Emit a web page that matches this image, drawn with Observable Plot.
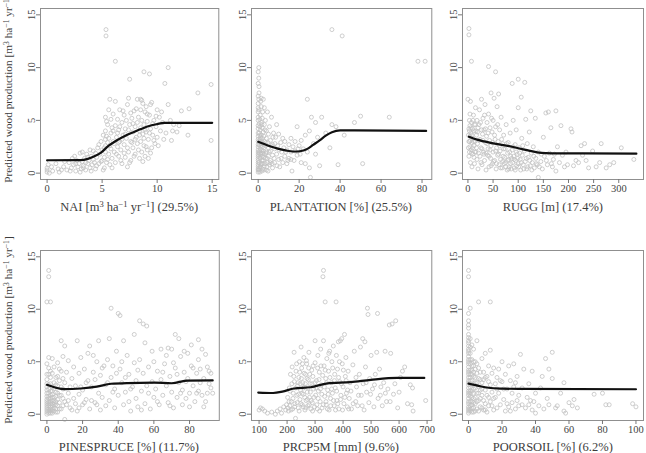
<!DOCTYPE html>
<html>
<head>
<meta charset="utf-8">
<script src="https://cdn.jsdelivr.net/npm/d3@7"></script>
<script src="https://cdn.jsdelivr.net/npm/@observablehq/plot@0.6"></script>
<style>
  body { margin: 0; background: #fff; }
  #fig { position: relative; width: 646px; height: 453px; overflow: hidden;
         font-family: "Liberation Serif", "Times New Roman", serif; color: #3c3c3c; }
  #fig svg { position: absolute; overflow: visible; }
  .xt { position: absolute; transform: translate(-50%, -50%); white-space: nowrap; font-size: 12.5px; }
  .yt { position: absolute; transform: translate(-50%, -50%) rotate(-90deg); white-space: nowrap; font-size: 11.3px; }
  sup { font-size: 68%; line-height: 0; vertical-align: 0.45em; }
</style>
</head>
<body>
<div id="fig"></div>
<script>
// Observed plots: [predictor value, predicted wood production]
const naiPts = [
  [0,0.1],[0,0.3],[0,0.5],[0.1,0.8],[0.5,0.2],[1.0,0.4],[1.1,0.1],
  [1.5,0.6],[1.8,0.3],[2.0,1.0],[2.2,0.5],[2.4,0.8],[2.5,1.6],[2.6,0.2],[2.7,1.2],[2.8,0.6],[2.9,0.9],
  [3.0,1.9],[3.1,0.4],[3.2,1.1],[3.3,0.7],[3.4,1.4],[3.5,0.3],[3.6,1.8],[3.7,0.9],[3.8,1.2],[3.9,0.5],
  [4.0,1.6],[4.1,0.8],[4.2,2.1],[4.3,1.0],[4.4,0.4],[4.5,1.5],[4.6,2.4],[4.7,0.9],[4.8,1.8],[4.9,3.0],[5.0,1.2],[5.0,2.2],
  [5.2,0.5],[5.2,1.5],[5.3,2.0],[5.3,2.6],[5.3,3.2],[5.3,4.0],[5.3,5.3],[5.35,13.6],[5.35,13.0],[5.4,1.0],[5.4,3.5],
  [5.5,4.6],[5.5,2.9],[5.6,1.8],[5.6,6.0],[5.7,0.8],[5.7,7.0],[5.8,3.8],[5.8,2.3],[5.9,4.3],[5.9,1.4],[6.0,3.0],[6.0,5.6],
  [6.1,2.0],[6.2,10.6],[6.2,4.5],[6.2,1.0],[6.3,3.4],[6.4,5.1],[6.4,2.5],[6.5,4.1],[6.5,1.6],[6.6,6.0],[6.6,3.0],[6.7,2.2],
  [6.8,4.8],[6.8,0.9],[6.9,3.6],[7.0,5.5],[7.0,2.7],[7.1,1.5],[7.1,4.2],
  [7.2,3.3],[7.3,6.5],[7.3,0.6],[7.4,7.1],[7.4,2.0],[7.5,8.9],[7.5,4.6],[7.6,3.0],[7.6,1.2],[7.7,5.2],[7.8,3.9],[7.8,2.4],
  [7.9,5.9],[8.0,1.8],[8.0,4.4],
  [8.1,3.4],[8.2,7.0],[8.2,2.8],[8.3,5.3],[8.4,1.4],[8.4,4.0],[8.5,7.0],[8.5,6.0],[8.5,3.0],[8.6,2.0],[8.6,5.0],[8.7,3.7],
  [8.7,6.6],[8.8,9.6],[8.8,4.6],[8.8,2.6],[8.9,5.8],[8.9,1.6],[9.0,3.9],[9.0,6.3],
  [9.1,2.2],[9.1,4.9],[9.2,3.2],[9.3,9.4],[9.3,5.5],[9.4,4.2],[9.4,1.9],[9.5,6.7],[9.6,3.6],[9.7,5.0],[9.8,2.8],[9.9,4.4],
  [10.0,3.4],[10.0,6.0],
  [10.2,5.3],[10.3,4.0],[10.5,4.8],[10.7,8.5],[10.8,3.8],[11.0,10.0],[11.0,6.5],[11.2,5.0],[11.3,3.1],[11.5,4.6],[11.8,3.9],
  [12.2,5.9],[12.8,3.6],[12.9,6.1],[13.7,7.6],[14.9,8.4],[14.9,3.1],
  [0.2,0.0],[0.4,0.6],[0.8,0.9],[1.3,0.3],[1.6,1.1],[2.1,0.2],[2.3,1.4],[2.6,0.9],[3.0,0.1],[3.2,2.0],[3.3,0.5],[3.5,1.0],
  [3.7,1.5],[3.9,2.2],[4.0,0.2],[4.2,1.3],[4.4,1.9],[4.5,0.7],[4.7,2.7],[4.9,1.1],[5.1,3.6],[5.1,0.3],[5.2,2.4],[5.4,4.9],
  [5.5,1.3],[5.6,3.3],[5.7,2.6],[5.8,5.1],[5.9,0.5],[6.0,4.0],[6.1,2.8],[6.2,6.8],[6.3,1.8],[6.4,3.8],[6.5,2.9],[6.6,4.4],
  [6.7,1.2],[6.8,3.2],[6.9,5.9],[7.0,1.9],[7.1,3.7],[7.2,5.0],[7.3,2.4],[7.4,4.1],[7.5,1.0],[7.6,5.7],[7.7,2.9],[7.8,4.7],
  [7.9,1.6],[8.0,3.2],[8.1,6.1],[8.2,4.8],[8.3,2.2],[8.4,3.6],[8.5,4.3],[8.6,6.9],[8.7,1.1],[8.8,3.3],[8.9,4.1],[9.0,2.5],
  [9.1,5.6],[9.2,1.4],[9.3,3.8],[9.4,6.5],[9.5,2.4],[9.6,4.7],[9.7,3.1],[9.9,5.4],[10.1,2.6],[10.4,5.8],[10.6,3.2],[11.4,4.0],
  [12.0,4.5]
];
const plantationPts = [
  [0,0.1],[0,0.4],[0,0.8],[0,1.2],[0,1.6],[0,2.0],[0,2.5],[0,3.0],[0,3.5],[0,4.2],[0,5.0],[0,5.8],[0,6.6],[0,7.3],[0,8.5],
  [0,9.6],[0.3,10.0],[0.3,9.0],[0.3,7.0],[0.3,6.0],[0.5,4.7],[0.5,3.8],[0.5,2.7],[0.5,1.9],[0.5,1.0],[0.5,0.3],
  [1,5.5],[1,4.1],[1,3.2],[1,2.3],[1,1.4],[1,0.6],[1.5,7.1],[1.5,6.3],[1.5,4.8],[1.5,3.6],[1.5,2.8],[1.5,1.9],[1.5,0.9],
  [2,5.2],[2,4.3],[2,3.3],[2,2.5],[2,1.6],[2,0.4],[2.5,7.0],[2.5,3.9],[2.5,2.1],[2.5,1.2],[3,6.2],[3,4.6],[3,3.0],[3,1.8],[3,0.7],
  [3.5,5.0],[3.5,2.6],[3.5,1.4],[4,4.0],[4,3.3],[4,2.0],[4,0.3],[4.5,5.8],[4.5,1.0],[5,3.7],[5,2.4],[5,1.6],[5.5,4.4],[5.5,0.8],
  [6,3.1],[6,2.1],[6,1.2],[6.5,5.3],[7,2.7],[7,1.7],[7,0.5],[7.5,3.8],[8,2.3],[8,1.0],
  [8.5,3.4],[9,1.8],[9,4.6],[9.5,2.6],[10,3.7],[10,1.3],[10.5,0.6],[11,2.9],[11.5,2.0],[12,3.3],[12,1.0],[12.5,2.4],[13,3.0],
  [13,1.6],[14,2.2],[14,0.9],[15,2.7],[15,1.4],[16,2.0],[16,3.3],[16.5,0.2],
  [17,2.5],[17.5,1.2],[18,2.1],[18,3.0],[19,4.4],[19,1.7],[20,2.6],[21,1.0],[21,3.1],[22,2.3],[23,0.9],[23,3.6],[24,7.0],
  [24,2.0],[25,4.0],[25,0.5],[25.5,-0.4],
  [26,5.3],[27,2.8],[28,4.8],[28,1.8],[29,3.4],[30,0.7],[31,5.3],[33,3.8],[35,2.4],[36,13.6],[36,4.6],[38,4.4],[39,0.8],
  [41,13.0],[42,3.6],[47,4.8],[50,5.4],[51,0.9],[64,5.3],[78,10.6],[81.5,10.6],
  [0,0.3],[0,0.6],[0,1.0],[0,1.4],[0,1.8],[0,2.2],[0,2.7],[0,3.2],[0,3.8],[0,4.5],[0,5.3],[0,6.2],[0.4,7.6],[0.4,8.2],
  [0.8,0.1],[0.8,0.5],[0.8,1.5],[0.8,2.1],[0.8,3.0],[0.8,3.6],[0.8,4.4],[0.8,5.1],[1.2,6.8],[1.2,0.8],[1.2,1.8],[1.2,2.6],
  [1.2,3.4],[1.8,0.2],[1.8,1.2],[1.8,2.2],[1.8,3.0],[1.8,4.6],[2.2,5.8],[2.2,0.9],[2.2,1.9],[2.2,2.8],[2.8,0.3],[2.8,1.5],
  [2.8,2.4],[2.8,3.5],[3.3,4.1],[3.3,0.9],[3.8,1.9],[3.8,2.9],[4.3,0.6],[4.3,1.4],[4.8,2.9],[4.8,0.2],[5.3,2.0],[5.8,1.0],
  [6.2,2.6],[6.8,0.9],[7.2,3.4],[7.8,1.4],[8.2,2.8],[9.2,0.7],[10.2,2.2],[11.2,1.4],[13.5,2.0],[14.5,1.2],[16,1.3],
  [19.5,2.3],[20.5,1.8]
];
const ruggPts = [
  [0,7.0],[2,13.7],[2,13.1],[3,2.0],[3,3.0],[3,4.0],[3,5.0],[4,2.5],[4,3.5],[4,4.5],[5,6.8],[5,1.0],[6,2.2],[6,3.8],[7,10.6],
  [7,4.8],[8,2.9],[8,0.6],[9,4.2],[10,3.3],[10,1.8],[11,5.5],[12,2.6],[12,4.0],[13,0.9],[14,3.0],[15,4.6],[15,6.2],[16,2.0],
  [17,3.6],[18,1.3],[18,5.0],[19,2.8],[20,4.3],[20,0.4],
  [22,3.1],[23,6.0],[24,1.6],[25,4.8],[26,2.4],[27,7.0],[28,0.8],[29,3.7],[30,5.2],[31,2.0],[32,4.1],[33,1.2],[34,6.5],
  [35,2.9],[36,0.3],[37,3.5],[38,4.8],[39,1.7],[40,2.3],[41,10.1],[41,5.6],[42,0.6],[43,3.1],[44,4.3],[45,1.4],[46,7.6],
  [46,2.6],[48,3.9],[49,0.9],[50,5.0],[50,2.0],[52,7.1],[53,1.2],[54,3.2],[55,9.6],[55,4.4],[56,0.4],[57,2.4],[58,6.3],
  [59,1.7],[60,3.0],
  [61,7.5],[62,0.8],[63,4.1],[64,2.1],[65,1.3],[66,5.3],[68,0.5],[69,2.8],[70,1.6],[71,3.6],[72,0.9],[74,2.3],[75,1.0],
  [76,4.6],[78,0.3],[79,1.9],[80,2.9],[81,1.3],[82,0.6],[84,3.8],[85,1.6],[86,0.4],[88,8.5],[88,2.2],[89,1.0],[90,5.0],
  [91,1.6],[92,0.5],[94,2.7],[95,1.2],[96,4.1],[97,0.7],[98,1.8],[100,8.9],[100,6.2],[100,0.9],[102,2.4],[104,1.3],[105,0.3],
  [106,7.2],[107,3.3],[108,1.7],[110,0.8],[112,2.1],[113,8.6],[114,1.1],[115,5.1],[117,0.4],[118,2.8],[120,1.5],[122,3.9],
  [124,0.7],[125,5.9],[126,1.9],[128,1.0],[130,2.5],[132,0.5],[134,5.2],[135,1.4],[138,0.8],[140,-0.4],[140,2.0],
  [145,1.1],[148,0.4],[150,3.4],[152,1.6],[155,5.7],[158,0.8],[160,5.8],[162,1.9],[165,4.3],[168,0.6],[170,1.3],[175,5.9],
  [175,0.2],[178,2.5],[182,1.0],[185,4.5],[188,1.7],[192,0.6],[195,2.0],[198,0.8],[205,4.2],[207,3.9],[210,0.7],[215,1.2],
  [220,1.0],[225,2.6],[228,1.7],[232,2.8],[235,1.2],[240,0.5],[248,2.1],[255,0.6],[262,1.0],[265,2.8],[275,0.5],[282,0.8],
  [290,1.0],[305,2.4],[330,1.3],
  [1,3.6],[1,2.4],[2,4.2],[2,3.0],[2,1.6],[4,5.6],[5,3.1],[6,4.3],[7,1.9],[8,3.6],[9,2.4],[10,5.0],[11,3.0],[12,1.5],
  [13,4.6],[14,2.0],[16,4.0],[17,2.4],[19,3.9],[21,1.9],[22,4.6],[24,3.2],[26,1.0],[27,4.1],[28,2.3],[30,3.1],[32,1.8],
  [33,5.5],[35,4.2],[36,1.9],[38,2.8],[40,3.8],[42,1.6],[44,2.2],[46,0.7],[47,5.2],[49,2.9],[51,1.1],[53,3.6],[55,2.1],
  [57,0.9],[59,4.6],[61,1.8],[63,2.6],[65,0.5],[67,3.2],[69,1.1],[71,2.3],[73,1.5],[75,0.6],[77,2.8],[79,1.2],[81,0.4],
  [83,2.0],[85,0.9],[87,1.4],[90,2.5],[92,1.3],[94,0.3],[96,2.0],[99,1.4],[101,0.6],[103,1.9],[106,1.0],[109,2.6],[111,0.4],
  [116,1.4],[119,0.6],[123,1.2],[127,0.3],[131,1.6],[136,0.9],[142,0.6],[146,1.8],[156,1.2],[166,0.9],[172,1.8]
];
const pinesprucePts = [
  [0,0.2],[0,0.6],[0,1.0],[0,1.4],[0,2.0],[0,2.6],[0,3.3],[0,4.8],[0,10.7],[1,13.7],[1,13.1],[1,0.3],[1,0.8],[1,1.2],[1,1.7],
  [1,2.4],[1,3.8],[1,5.4],[2,10.7],[2,0.1],[2,0.5],[2,1.0],[2,1.5],[2,2.2],[2,2.9],[2,4.1],[3,0.3],[3,0.8],[3,1.3],[3,1.9],
  [3,2.6],[3,5.3],[4,0.6],[4,1.1],[4,1.6],[4,3.0],[4,4.5],[5,0.2],[5,0.9],[5,2.1],[5,3.5],[6,1.4],[6,2.7],[6,4.9],[7,0.5],
  [7,3.2],[8,7.0],[8,1.8],[8,4.1],[9,0.8],[9,2.4],[9,5.5],[10,6.5],[10,3.0],[10,1.2],[10,-0.5],
  [11,4.0],[12,2.0],[12,5.1],[13,0.6],[14,3.4],[15,1.5],[15,4.5],[16,2.7],[17,7.0],[17,0.3],[18,3.9],[18,1.9],[19,5.4],
  [20,2.3],[20,0.9],[21,4.3],[22,1.4],[22,3.0],[23,5.8],[24,6.5],[24,0.5],[25,2.6],[26,4.0],[27,1.1],[27,3.3],[28,5.0],
  [29,7.0],[29,2.0],[30,0.4],[30,3.7],[31,1.6],[32,4.6],[33,0.8],[33,2.8],[34,5.2],[35,7.2],[35,1.3],[36,10.1],[36,3.5],
  [37,4.6],[38,0.6],[38,2.4],[39,6.0],[40,9.6],[40,1.8],
  [41,9.4],[41,4.3],[42,3.0],[43,0.9],[43,7.0],[44,2.1],[45,5.6],[46,1.2],[46,3.8],[47,0.3],[48,2.6],[49,7.6],[49,4.9],
  [50,1.5],[50,3.2],[51,0.7],[52,8.9],[52,5.2],[53,2.2],[54,8.6],[54,3.9],[55,1.0],[55,6.8],[56,8.4],[56,2.7],[57,4.5],
  [58,0.5],[59,3.1],[60,1.6],[60,5.0],[61,2.4],[62,4.1],[63,0.9],[64,6.2],[64,3.3],[65,1.8],[66,4.8],[67,2.7],[68,6.3],
  [68,1.1],[69,3.6],[70,6.2],[70,2.1],
  [71,0.6],[72,7.6],[72,4.4],[73,1.6],[74,7.2],[74,3.0],[75,5.5],[76,2.3],[76,0.9],[77,4.0],[78,1.5],[79,5.8],[79,3.4],
  [80,2.0],[80,0.7],[81,6.6],[81,4.6],[82,2.7],[83,1.2],[84,3.9],[85,7.1],[85,5.2],[85,2.2],[86,4.3],[87,1.8],[88,0.7],
  [88,3.4],[89,5.7],[90,2.0],[91,4.1],[92,3.9],[92,2.5],
  [0,0.0],[0,0.4],[0,0.8],[0,1.2],[0,1.7],[0,2.3],[0,2.9],[0,3.8],[1,0.1],[1,0.5],[1,1.0],[1,1.5],[1,2.0],[1,2.8],[1,4.4],
  [2,0.3],[2,0.7],[2,1.2],[2,1.8],[2,3.5],[3,0.1],[3,0.5],[3,1.0],[3,1.6],[3,2.2],[3,3.9],[4,0.3],[4,0.9],[4,1.3],[4,2.4],
  [5,0.5],[5,1.2],[5,1.7],[5,2.8],[6,0.2],[6,0.8],[6,2.0],[6,3.6],[7,1.1],[7,1.8],[7,4.3],[8,0.5],[8,2.6],[9,1.5],[9,3.4],
  [11,0.9],[12,1.3],[13,2.6],[14,0.4],[16,1.0],[18,0.6],[19,2.6],[21,1.1],[23,3.2],[25,1.3],[26,5.6],[28,0.9],[31,4.4],
  [34,3.0],[37,2.1],[39,3.9],[42,5.0],[44,3.5],[47,2.4],[51,4.2],[53,0.4],[57,2.0],[59,6.0],[62,1.2],[65,4.0],[67,5.6],
  [69,0.8],[71,4.9],[73,3.8],[75,2.0],[77,6.0],[78,3.1],[82,4.4],[84,2.0],[86,3.0],[87,6.2],[89,1.2],[90,4.5],[91,2.9],[93,2.0]
];
const prcp5mPts = [
  [100,0.4],[105,0.6],[112,0.5],[120,0.3],[130,0.1],[145,0.2],[158,0.0],[165,0.3],[175,0.5],[180,0.1],[188,0.7],[195,0.4],
  [198,0.9],
  [202,1.6],[205,0.3],[208,2.5],[210,0.8],[212,3.8],[215,1.2],[218,4.5],[220,0.5],[222,2.0],[225,5.9],[226,3.1],[228,1.0],
  [230,-0.4],[232,4.1],[235,1.8],[237,2.7],[240,0.6],[242,3.5],[244,5.0],[246,1.4],[248,2.3],[250,6.4],[252,4.4],[254,0.9],
  [256,3.0],[258,1.9],[260,5.4],[262,2.6],[264,0.4],[266,3.8],[268,1.3],[270,4.8],[272,2.1],[274,0.8],[276,3.3],[278,5.9],
  [280,1.6],[282,2.9],[285,0.5],[288,4.2],[290,1.1],[292,3.6],[295,2.4],[298,0.7],[300,7.0],[300,4.9],
  [302,1.8],[305,3.2],[308,0.5],[310,5.6],[312,2.2],[315,4.0],[318,1.2],[320,6.2],[322,2.8],[325,0.6],[328,13.1],[330,13.7],
  [330,7.0],[332,4.6],[334,1.7],[336,10.7],[338,3.4],[340,0.9],[342,5.3],[345,2.3],[348,4.1],[350,0.4],[352,6.0],[355,1.5],
  [358,3.0],[360,5.0],[362,2.0],[365,6.5],[368,0.8],[370,3.8],[372,2.5],[375,10.7],[376,5.6],[378,1.3],[380,4.3],[383,6.9],
  [385,0.5],[388,3.1],[390,7.0],[392,1.8],[395,7.2],[397,4.8],[400,2.6],[403,1.0],[405,7.6],[408,3.6],[410,5.4],[412,2.0],
  [415,0.7],[418,4.1],
  [422,1.5],[425,3.0],[430,0.5],[435,4.7],[440,6.0],[445,1.2],[448,2.6],[452,0.8],[458,3.8],[462,6.4],[465,1.8],[470,7.2],
  [472,2.9],[475,0.4],[478,6.9],[480,4.5],[484,2.1],[487,10.1],[489,9.5],[492,1.1],[495,3.4],[500,5.6],[505,2.4],[510,0.7],
  [515,3.8],[520,5.9],[523,9.6],[525,1.5],[530,4.3],[535,2.6],[540,0.8],[545,3.0],[550,6.0],[555,1.2],[560,2.4],[565,8.5],
  [570,5.8],[575,8.6],[580,1.9],[588,8.9],[595,0.6],[605,3.5],[612,4.1],[620,4.5],[630,1.0],[640,2.8],[645,0.9],[648,2.5],
  [650,0.3],[695,1.3],
  [203,0.6],[207,1.2],[211,2.2],[214,0.4],[217,2.9],[221,1.5],[224,3.6],[227,0.7],[231,2.5],[234,4.8],[236,1.1],[239,3.0],
  [241,1.9],[243,0.3],[245,4.0],[247,2.9],[249,1.0],[251,3.4],[253,2.0],[255,4.8],[257,0.7],[259,2.5],[261,3.9],[263,1.6],
  [265,2.9],[267,0.6],[269,5.1],[271,3.4],[273,1.4],[275,2.5],[277,4.4],[279,0.9],[281,3.8],[283,2.1],[286,1.3],[289,2.9],
  [291,0.3],[293,4.6],[296,1.6],[299,3.0],[303,2.5],[306,0.9],[309,4.4],[311,1.5],[314,3.3],[316,0.3],[319,2.4],[321,4.6],
  [324,1.9],[327,3.7],[329,0.9],[333,2.6],[336,4.2],[339,1.2],[341,3.0],[344,0.5],[347,1.9],[349,5.8],[353,3.5],[356,0.8],
  [359,2.4],[363,4.4],[366,1.3],[369,3.2],[373,0.4],[377,2.2],[381,1.0],[384,3.5],[387,5.0],[391,1.4],[394,2.9],[398,0.4],
  [401,4.2],[406,1.6],[411,3.2],[416,2.3],[420,0.5],[428,2.2],[436,1.0],[446,3.5],[455,1.8],[468,0.8],[482,3.0],[498,1.9],
  [512,2.8],[533,1.8],[551,2.0],[568,1.2],[585,2.9],[600,2.1]
];
const poorsoilPts = [
  [0,13.7],[0,13.1],[0,9.6],[0,8.9],[0,8.5],[0,7.6],[0,7.0],[0,6.5],[0,6.0],[0,5.5],[0,5.0],[0,4.5],[0,4.0],[0,3.5],[0,3.0],
  [0,2.5],[0,2.0],[0,1.5],[0,1.0],[0,0.5],[0,0.1],[1,10.1],[1,7.2],[1,5.8],[1,4.8],[1,3.8],[1,3.2],[1,2.2],[1,1.7],[1,0.8],
  [1,0.3],[2,6.6],[2,5.2],[2,4.2],[2,2.8],[2,1.2],[2,0.6],[3,6.2],[3,4.6],[3,3.6],[3,2.4],[3,1.5],[3,0.2],
  [4,5.0],[4,3.0],[4,1.0],[5,7.0],[5,3.9],[5,2.0],[5,0.5],[6,10.7],[6,4.4],[6,2.6],[6,1.3],[7,3.3],[7,0.7],[8,5.3],[8,1.8],
  [8,3.0],[9,4.0],[9,0.4],[10,5.8],[10,2.3],[10,1.0],[11,3.6],[11,0.2],[12,4.6],[12,1.6],[13,10.7],[13,6.1],[13,2.8],
  [14,0.8],[14,3.9],[15,4.4],[15,1.5],
  [16,2.9],[17,0.6],[17,3.5],[18,4.3],[18,2.0],[19,0.9],[20,5.0],[20,3.1],[21,1.4],[22,0.3],[22,3.8],[23,2.4],[24,4.6],
  [24,0.7],[25,3.2],[26,1.1],[27,4.8],[27,2.6],[28,0.5],[29,3.6],[30,1.8],[30,0.8],[31,5.7],[32,2.5],[33,4.3],[34,0.6],
  [35,1.6],[36,0.9],[37,1.3],[38,4.1],[38,0.4],[40,0.1],[40,2.0],
  [42,0.8],[44,3.6],[45,0.5],[46,5.3],[48,4.3],[48,0.9],[50,3.4],[50,5.9],[52,0.6],[55,2.0],[57,3.0],[57,0.3],[58,0.1],
  [60,1.1],[63,1.4],[65,0.6],[75,1.9],[80,2.0],[82,0.9],[84,0.9],[98,1.0],[100,0.7],
  [0,0.3],[0,0.7],[0,1.2],[0,1.8],[0,2.2],[0,2.8],[0,3.2],[0,3.8],[0,4.2],[0,4.8],[0,5.2],[0,5.8],[0,6.2],[0,6.8],[0,7.3],
  [0,8.2],[1,0.5],[1,1.2],[1,2.0],[1,2.6],[1,3.5],[1,4.2],[1,5.2],[1,6.4],[2,0.2],[2,0.9],[2,1.6],[2,2.2],[2,3.2],[2,3.8],
  [2,4.6],[3,0.6],[3,1.1],[3,2.0],[3,2.9],[3,4.0],[3,5.0],[4,0.3],[4,1.6],[4,2.5],[4,3.5],[4,4.3],[5,1.2],[5,3.0],[5,4.8],
  [6,0.3],[6,2.0],[6,3.4],[7,1.5],[7,2.3],[7,4.0],[8,0.6],[8,2.4],[9,1.3],[9,3.3],[10,0.4],[10,3.5],[11,1.8],[12,0.8],
  [12,3.1],[13,1.2],[14,2.1],[15,0.4],[16,1.6],[17,2.4],[19,3.2],[21,2.4],[23,1.0],[25,0.3],[26,2.0],[28,3.0],[29,1.3],
  [32,0.9],[36,2.9],[39,1.2],[43,2.5],[47,1.5],[53,0.8],[62,0.8]
];

// Partial dependence curves: [predictor value, predicted wood production]
const naiCurve = [[0,1.22],[3.0,1.23],[3.7,1.35],[4.3,1.6],[4.9,1.95],[5.6,2.6],[6.4,3.15],[7.2,3.6],[8.0,3.95],[9.2,4.45],[10.0,4.65],[10.6,4.77],[15,4.77]];
const plantationCurve = [[0,2.97],[5,2.6],[10,2.3],[15,2.1],[18,2.05],[21,2.1],[24,2.3],[27,2.7],[30,3.1],[33,3.55],[36,3.88],[40,4.05],[47,4.05],[82,4.0]];
const ruggCurve = [[2,3.45],[20,3.15],[48,2.85],[88,2.5],[115,2.2],[138,1.97],[155,1.9],[181,1.87],[230,1.87],[335,1.85]];
const pinespruceCurve = [[0,2.8],[5,2.52],[10,2.38],[19,2.45],[28,2.63],[36,2.9],[45,2.97],[60,3.0],[70,2.95],[79,3.2],[93,3.22]];
const prcp5mCurve = [[97,2.06],[150,2.02],[183,2.15],[225,2.45],[284,2.57],[344,2.93],[427,3.05],[499,3.27],[594,3.46],[690,3.46]];
const poorsoilCurve = [[0,2.92],[6,2.7],[12,2.52],[20,2.44],[30,2.41],[100,2.38]];

// Axis ticks
const yTicks = [0, 5, 10, 15];
const naiTicks = [0, 5, 10, 15];
const plantationTicks = [0, 20, 40, 60, 80];
const ruggTicks = [0, 50, 100, 150, 200, 250, 300];
const pinespruceTicks = [0, 20, 40, 60, 80];
const prcp5mTicks = [100, 200, 300, 400, 500, 600, 700];
const poorsoilTicks = [0, 20, 40, 60, 80, 100];

const unit = 'm<sup>3</sup> ha<sup>−1</sup> yr<sup>−1</sup>';
const yTitle = `Predicted wood production [${unit}]`;

// Panel layout: plot frame box [left, right, top, bottom] in page pixels
const panels = [
  {pts: naiPts, curve: naiCurve, ticks: naiTicks, xDomain: [-0.6, 15.6], box: [40, 218.3, 8, 179],
   xTitle: `NAI [${unit}] (29.5%)`, xTitleY: 207, yTitle: true},
  {pts: plantationPts, curve: plantationCurve, ticks: plantationTicks, xDomain: [-3.26, 84.76], box: [250.7, 431, 8, 179],
   xTitle: "PLANTATION [%] (25.5%)", xTitleY: 207},
  {pts: ruggPts, curve: ruggCurve, ticks: ruggTicks, xDomain: [-10.8, 349.2], box: [462.3, 643.3, 8, 179],
   xTitle: "RUGG [m] (17.4%)", xTitleY: 207},
  {pts: pinesprucePts, curve: pinespruceCurve, ticks: pinespruceTicks, xDomain: [-3.6, 96.7], box: [39.5, 218.3, 250, 420],
   xTitle: "PINESPRUCE [%] (11.7%)", xTitleY: 447, yTitle: true},
  {pts: prcp5mPts, curve: prcp5mCurve, ticks: prcp5mTicks, xDomain: [72.9, 716.8], box: [250.7, 431, 250, 420],
   xTitle: "PRCP5M [mm] (9.6%)", xTitleY: 447},
  {pts: poorsoilPts, curve: poorsoilCurve, ticks: poorsoilTicks, xDomain: [-3.6, 104.5], box: [462.3, 643.3, 250, 420],
   xTitle: "POORSOIL [%] (6.2%)", xTitleY: 447}
];

const fig = document.getElementById("fig");
const mL = 40, mR = 3, mT = 8, mB = 22;

for (const p of panels) {
  const [l, r, t, b] = p.box;
  const svg = Plot.plot({
    width: (r - l) + mL + mR,
    height: (b - t) + mT + mB,
    marginLeft: mL, marginRight: mR, marginTop: mT, marginBottom: mB,
    x: {domain: p.xDomain},
    y: {domain: [-0.6, 15.6]},
    style: {fontFamily: '"Liberation Serif", serif', fontSize: "10.5px", color: "#444", background: "transparent"},
    marks: [
      Plot.dot(p.pts, {x: d => d[0], y: d => d[1], r: 2, stroke: "#c2c2c2", strokeWidth: 0.8, fill: "none"}),
      Plot.line(p.curve, {x: d => d[0], y: d => d[1], stroke: "#111", strokeWidth: 2.2, curve: "monotone-x"}),
      Plot.frame({stroke: "#8f8f8f", strokeWidth: 1}),
      Plot.axisX({ticks: p.ticks, tickSize: 4, tickPadding: 1, stroke: "#777", fill: "#444", label: null}),
      Plot.axisY({ticks: yTicks, tickSize: 4, tickPadding: 2, tickRotate: -90, stroke: "#777", fill: "#444", label: null})
    ]
  });
  svg.style.left = (l - mL) + "px";
  svg.style.top = (t - mT) + "px";
  fig.appendChild(svg);

  const xt = document.createElement("div");
  xt.className = "xt";
  xt.innerHTML = p.xTitle;
  xt.style.left = ((l + r) / 2) + "px";
  xt.style.top = p.xTitleY + "px";
  fig.appendChild(xt);

  if (p.yTitle) {
    const yt = document.createElement("div");
    yt.className = "yt";
    yt.innerHTML = yTitle;
    yt.style.left = "8px";
    yt.style.top = ((t + b) / 2 - 5) + "px";
    fig.appendChild(yt);
  }
}
</script>
</body>
</html>
